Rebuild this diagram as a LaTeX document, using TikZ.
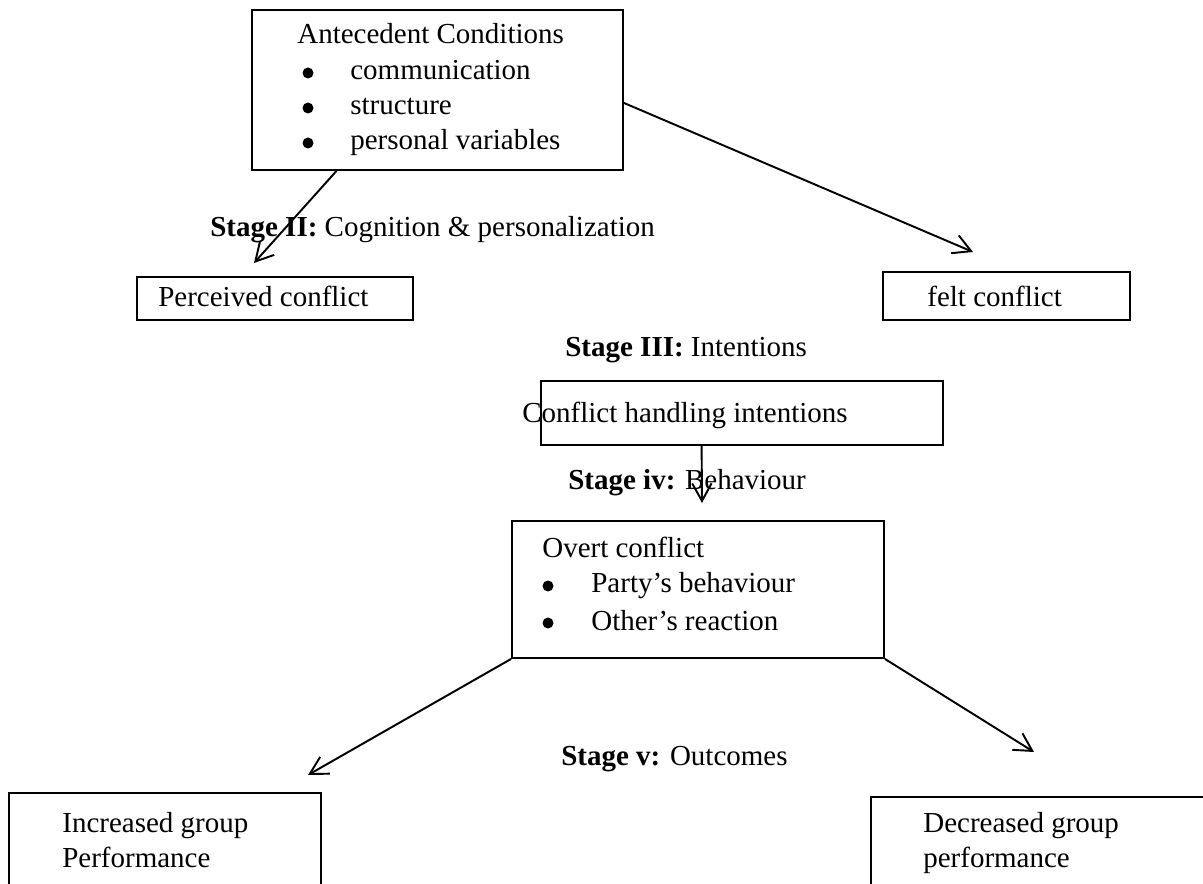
\documentclass[tikz,border=0pt]{standalone}
\usepackage{fontspec}
\setmainfont{Liberation Serif}
\usetikzlibrary{arrows.meta,calc}
\tikzset{
  stagebox/.style={draw=black,line width=1.1pt,shape=rectangle,inner sep=0pt},
  txt/.style={anchor=base west,inner sep=0pt,font=\fontsize{16.5}{20}\selectfont},
  dot/.style={shape=circle,fill=black,inner sep=0pt,minimum size=0.22cm},
  flow/.style={-{Straight Barb[length=10pt,width=11pt]},line width=1.1pt}
}
\begin{document}
\begin{tikzpicture}[x=0.02cm,y=-0.02cm]
\useasboundingbox (0,0) rectangle (1203,884);
\clip (0,0) rectangle (1203,884);
%boxes
\node[stagebox,minimum width=7.42cm,minimum height=3.2cm] (ante) at (437.5,90){};
\node[stagebox,minimum width=5.52cm,minimum height=0.86cm] (perc) at (275,298.5){};
\node[stagebox,minimum width=4.94cm,minimum height=0.96cm] (felt) at (1006.5,296){};
\node[stagebox,minimum width=8.04cm,minimum height=1.28cm] (hand) at (742,413){};
\node[stagebox,minimum width=7.44cm,minimum height=2.74cm] (over) at (698,589.5){};
\node[stagebox,minimum width=6.24cm,minimum height=3.14cm] (incr) at (165,871.5){};
\node[stagebox,minimum width=7.78cm,minimum height=3.06cm] (decr) at (1065.5,873.5){};
%arrows
\coordinate (tipII) at (254,263);
\coordinate (tipfelt) at (973,252);
\coordinate (tipiv) at (702,503);
\coordinate (tipincr) at (308,775);
\coordinate (tipdecr) at (1034,752);
\draw[flow] ($(ante.south west)!0.229!(ante.south east)$) -- (tipII);
\draw[flow] ($(ante.north east)!0.58!(ante.south east)$) -- (tipfelt);
\draw[flow] ($(hand.south west)!0.4!(hand.south east)$) -- (tipiv);
\draw[flow] (over.south west) -- (tipincr);
\draw[flow] (over.south east) -- (tipdecr);
%stage I
\node[txt] (antehead) at (297,44){Antecedent Conditions};
\node[dot] (antebul1) at (308,73){};
\node[dot] (antebul2) at (308,108){};
\node[dot] (antebul3) at (308,143){};
\node[txt] (anteitem1) at (350,80){communication};
\node[txt] (anteitem2) at (350,115){structure};
\node[txt] (anteitem3) at (350,150){personal variables};
%stage II
\node[txt] (stageII) at (210,237){\textbf{Stage II:} Cognition \& personalization};
\node[txt] (perctext) at (158,307){Perceived conflict};
\node[txt] (felttext) at (927,307){felt conflict};
%stage III
\node[txt] (stageIII) at (565,357){\textbf{Stage III:} Intentions};
\node[txt] (handtext) at (522,423){Conflict handling intentions};
%stage iv
\node[txt] (stageiv) at (568,490){\textbf{Stage iv:} Behaviour};
\node[txt] (overhead) at (542,558){Overt conflict};
\node[dot] (overbul1) at (548,586){};
\node[dot] (overbul2) at (548,623){};
\node[txt] (overitem1) at (591,593){Party’s behaviour};
\node[txt] (overitem2) at (591,630){Other’s reaction};
%stage v
\node[txt] (stagev) at (561,765){\textbf{Stage v:} Outcomes};
\node[txt] (incrtext1) at (62,832){Increased group};
\node[txt] (incrtext2) at (62,867){Performance};
\node[txt] (decrtext1) at (923,832){Decreased group};
\node[txt] (decrtext2) at (923,867){performance};
\end{tikzpicture}
\end{document}
